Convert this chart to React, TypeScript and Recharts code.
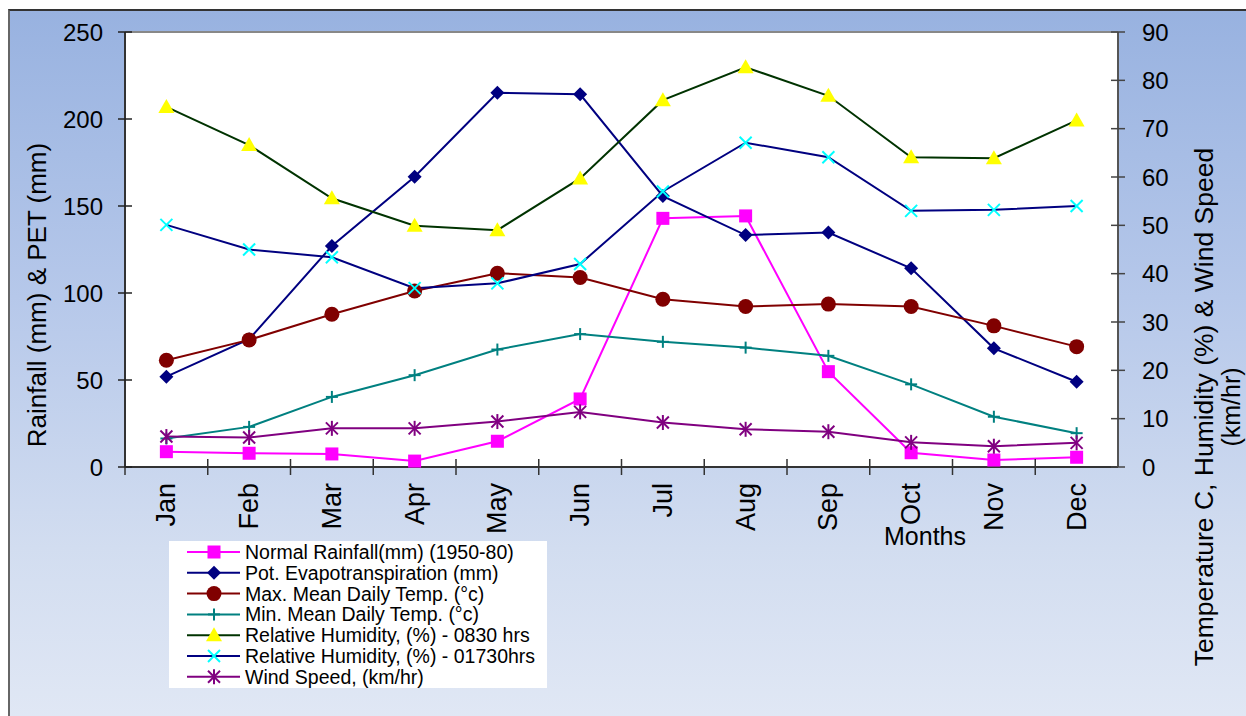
import React from 'react'
import { LineChart, Line, XAxis, YAxis, Legend, CartesianGrid, ReferenceLine } from 'recharts'

// Monthly climate normals
const months = ['Jan', 'Feb', 'Mar', 'Apr', 'May', 'Jun', 'Jul', 'Aug', 'Sep', 'Oct', 'Nov', 'Dec']
const rainfall = [8.8, 7.9, 7.5, 3.4, 14.8, 39.1, 142.9, 144.3, 54.8, 8.2, 4.0, 5.6]
const pet = [51.9, 73.4, 127.0, 166.8, 215.1, 214.2, 155.7, 133.3, 134.7, 114.2, 68.2, 49.0]
const maxTemp = [22.1, 26.3, 31.6, 36.4, 40.1, 39.2, 34.7, 33.2, 33.7, 33.2, 29.2, 24.9]
const minTemp = [5.9, 8.3, 14.5, 19.0, 24.3, 27.5, 25.9, 24.7, 23.0, 17.1, 10.4, 7.0]
const rh0830 = [74.5, 66.6, 55.6, 49.9, 49.0, 59.7, 75.9, 82.7, 76.8, 64.1, 63.9, 71.7]
const rh1730 = [50.1, 45.0, 43.4, 37.0, 38.0, 42.0, 57.0, 67.1, 64.1, 53.0, 53.2, 54.0]
const wind = [6.3, 6.1, 8.0, 8.0, 9.4, 11.4, 9.2, 7.8, 7.3, 5.1, 4.3, 5.0]

const leftTicks = [0, 50, 100, 150, 200, 250]
const rightTicks = [0, 10, 20, 30, 40, 50, 60, 70, 80, 90]

const data = months.map((m, i) => ({
  month: m,
  rainfall: rainfall[i],
  pet: pet[i],
  maxTemp: maxTemp[i],
  minTemp: minTemp[i],
  rh0830: rh0830[i],
  rh1730: rh1730[i],
  wind: wind[i],
}))

const FONT = '"Liberation Sans", Arial, Helvetica, sans-serif'

type MarkerKind = 'square' | 'diamond' | 'circle' | 'plus' | 'triangle' | 'cross' | 'star'

function Marker({ kind, cx, cy, fill }: { kind: MarkerKind; cx: number; cy: number; fill: string }) {
  switch (kind) {
    case 'square':
      return <rect x={cx - 6.5} y={cy - 6.5} width={13} height={13} fill={fill} />
    case 'diamond':
      return <polygon points={`${cx},${cy - 7} ${cx + 7},${cy} ${cx},${cy + 7} ${cx - 7},${cy}`} fill={fill} />
    case 'circle':
      return <circle cx={cx} cy={cy} r={7.5} fill={fill} />
    case 'plus':
      return (
        <g stroke={fill} strokeWidth={2}>
          <line x1={cx - 6} x2={cx + 6} y1={cy} y2={cy} />
          <line x1={cx} x2={cx} y1={cy - 6} y2={cy + 6} />
        </g>
      )
    case 'triangle':
      return <polygon points={`${cx},${cy - 8} ${cx + 8},${cy + 6} ${cx - 8},${cy + 6}`} fill={fill} />
    case 'cross':
      return (
        <g stroke={fill} strokeWidth={2}>
          <line x1={cx - 6} x2={cx + 6} y1={cy - 6} y2={cy + 6} />
          <line x1={cx - 6} x2={cx + 6} y1={cy + 6} y2={cy - 6} />
        </g>
      )
    case 'star':
      return (
        <g stroke={fill} strokeWidth={2}>
          <line x1={cx - 6} x2={cx + 6} y1={cy - 6} y2={cy + 6} />
          <line x1={cx - 6} x2={cx + 6} y1={cy + 6} y2={cy - 6} />
          <line x1={cx} x2={cx} y1={cy - 7.5} y2={cy + 7.5} />
        </g>
      )
  }
}

const series: { key: string; name: string; axis: string | number; stroke: string; marker: MarkerKind; markerFill: string }[] = [
  { key: 'rainfall', name: 'Normal Rainfall(mm) (1950-80)', axis: 0, stroke: '#ff00ff', marker: 'square', markerFill: '#ff00ff' },
  { key: 'pet', name: 'Pot. Evapotranspiration (mm)', axis: 0, stroke: '#000080', marker: 'diamond', markerFill: '#000080' },
  { key: 'maxTemp', name: 'Max. Mean Daily Temp. (°c)', axis: 'right', stroke: '#800000', marker: 'circle', markerFill: '#800000' },
  { key: 'minTemp', name: 'Min. Mean Daily Temp. (°c)', axis: 'right', stroke: '#008080', marker: 'plus', markerFill: '#008080' },
  { key: 'rh0830', name: 'Relative Humidity, (%) - 0830 hrs', axis: 'right', stroke: '#003300', marker: 'triangle', markerFill: '#ffff00' },
  { key: 'rh1730', name: 'Relative Humidity, (%) - 01730hrs', axis: 'right', stroke: '#000080', marker: 'cross', markerFill: '#00ffff' },
  { key: 'wind', name: 'Wind Speed, (km/hr)', axis: 'right', stroke: '#800080', marker: 'star', markerFill: '#800080' },
]

const LEFT_MARGIN = 22
const RIGHT_MARGIN = 24
const X_MARGIN = 16

function LeftTick({ x, y, payload }: any) {
  const axisX = x + LEFT_MARGIN
  return (
    <g>
      <line x1={axisX - 7} x2={axisX + 7} y1={y} y2={y} stroke="#222" strokeWidth={1.5} />
      <text x={x} y={y} dy="0.36em" textAnchor="end" fontSize={24} fontFamily={FONT} fill="#000">
        {payload.value}
      </text>
    </g>
  )
}

function RightTick({ x, y, payload }: any) {
  const axisX = x - RIGHT_MARGIN
  return (
    <g>
      <line x1={axisX - 7} x2={axisX + 7} y1={y} y2={y} stroke="#444" strokeWidth={1.5} />
      <text x={x} y={y} dy="0.36em" textAnchor="start" fontSize={24} fontFamily={FONT} fill="#000">
        {payload.value}
      </text>
    </g>
  )
}

function MonthTick({ x, y, payload }: any) {
  const axisY = y - X_MARGIN
  const half = payload.offset ?? 41.4
  const tx = x + 9
  return (
    <g>
      <line x1={x - half} x2={x - half} y1={axisY - 8} y2={axisY + 8} stroke="#333" strokeWidth={1.5} />
      <text
        x={tx}
        y={y}
        textAnchor="end"
        fontSize={27}
        fontFamily={FONT}
        fill="#000"
        transform={`rotate(-90, ${tx}, ${y})`}
      >
        {payload.value}
      </text>
    </g>
  )
}

function LegendBox() {
  return (
    <svg width={378} height={147}>
      <rect width={378} height={147} fill="#fff" />
      {series.map((s, i) => {
        const cy = 11 + i * 20.8
        return (
          <g key={s.key}>
            <line x1={18} x2={71} y1={cy} y2={cy} stroke={s.stroke} strokeWidth={2} />
            <Marker kind={s.marker} cx={45} cy={cy} fill={s.markerFill} />
            <text x={76} y={cy} dy="0.36em" fontSize={19.5} fontFamily={FONT} fill="#000">
              {s.name}
            </text>
          </g>
        )
      })}
    </svg>
  )
}

export default function App() {
  return (
    <div style={{ position: 'absolute', left: 0, top: 0, width: 1246, height: 716, background: '#fff', overflow: 'hidden' }}>
      <div
        style={{
          position: 'absolute',
          left: 8,
          top: 9,
          width: 1246,
          height: 716,
          borderLeft: '2px solid #666',
          borderTop: '2px solid #333',
          background: 'linear-gradient(180deg, #98b2e0 0%, #b6c8ea 40%, #d2ddf0 75%, #e1e8f5 100%)',
        }}
      />
      <div style={{ position: 'absolute', left: 0, top: 0 }}>
        <LineChart width={1246} height={716} data={data} margin={{ top: 32, right: 0, bottom: 159, left: 0 }}>
          <CartesianGrid fill="#fff" horizontal={false} vertical={false} />
          <XAxis
            dataKey="month"
            scale="band"
            interval={0}
            height={90}
            tickSize={0}
            tickMargin={X_MARGIN}
            tickLine={false}
            axisLine={{ stroke: '#333', strokeWidth: 2 }}
            tick={<MonthTick />}
          />
          <YAxis
            yAxisId={0}
            domain={[0, 250]}
            ticks={leftTicks}
            width={125}
            tickSize={0}
            tickMargin={LEFT_MARGIN}
            tickLine={false}
            axisLine={{ stroke: '#333', strokeWidth: 2 }}
            tick={<LeftTick />}
          />
          <YAxis
            yAxisId="right"
            orientation="right"
            domain={[0, 90]}
            ticks={rightTicks}
            width={128}
            tickSize={0}
            tickMargin={RIGHT_MARGIN}
            tickLine={false}
            axisLine={{ stroke: '#555', strokeWidth: 2 }}
            tick={<RightTick />}
          />
          <ReferenceLine yAxisId={0} y={250} stroke="#888" strokeWidth={2} />
          {series.map((s) => (
            <Line
              key={s.key}
              yAxisId={s.axis}
              dataKey={s.key}
              name={s.name}
              type="linear"
              stroke={s.stroke}
              strokeWidth={2}
              isAnimationActive={false}
              dot={(p: any) => <Marker key={`${s.key}-${p.index}`} kind={s.marker} cx={p.cx} cy={p.cy} fill={s.markerFill} />}
              activeDot={false}
            />
          ))}
          <Legend
            layout="vertical"
            align="center"
            verticalAlign="middle"
            width={378}
            height={147}
            wrapperStyle={{ left: 169, top: 541, width: 378, height: 147 }}
            content={() => <LegendBox />}
          />
        </LineChart>
      </div>
      <svg width={1246} height={716} style={{ position: 'absolute', left: 0, top: 0, pointerEvents: 'none' }}>
        <text
          x={46}
          y={295}
          textAnchor="middle"
          fontSize={26}
          fontFamily={FONT}
          fill="#000"
          transform="rotate(-90, 46, 295)"
        >
          Rainfall (mm) &amp; PET (mm)
        </text>
        <text x={925} y={545} textAnchor="middle" fontSize={25} fontFamily={FONT} fill="#000">
          Months
        </text>
        <text
          x={1213}
          y={407}
          textAnchor="middle"
          fontSize={26.5}
          fontFamily={FONT}
          fill="#000"
          transform="rotate(-90, 1213, 407)"
        >
          Temperature C, Humidity (%) &amp; Wind Speed
        </text>
        <text
          x={1240}
          y={407}
          textAnchor="middle"
          fontSize={25}
          fontFamily={FONT}
          fill="#000"
          transform="rotate(-90, 1240, 407)"
        >
          (km/hr)
        </text>
      </svg>
    </div>
  )
}
